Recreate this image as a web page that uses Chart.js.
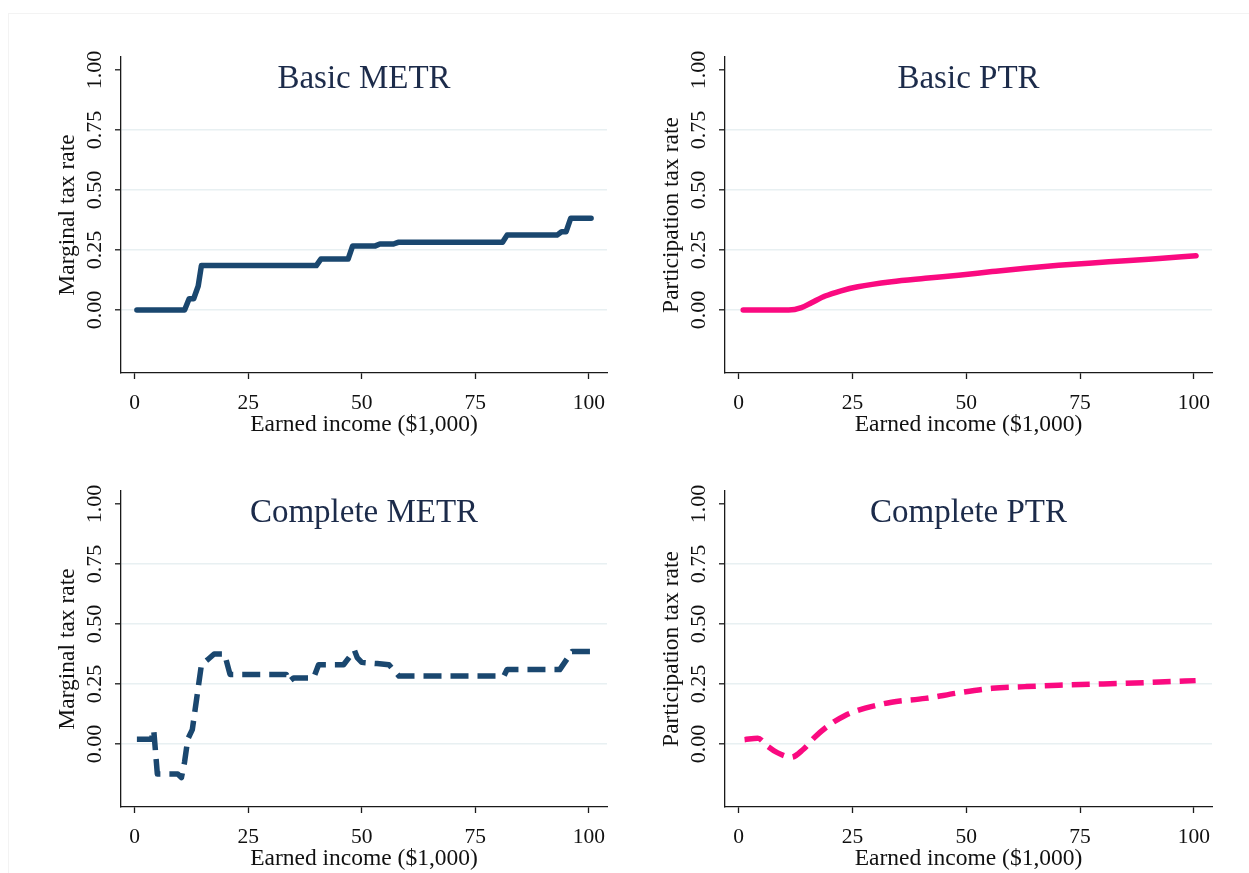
<!DOCTYPE html>
<html>
<head>
<meta charset="utf-8">
<title>METR and PTR</title>
<script src="https://cdn.jsdelivr.net/npm/chart.js@4.4.1/dist/chart.umd.min.js"></script>
<style>
  html, body { margin: 0; padding: 0; background: #fff; overflow: hidden; }
  body { width: 1249px; height: 873px; position: relative; }
  .frame { position: absolute; left: 8px; top: 13px; width: 1250px; height: 880px; border: 1px solid #f3f3f3; }
  canvas { position: absolute; }
</style>
</head>
<body>
<div class="frame"></div>
<canvas id="basic-metr" width="590" height="420" style="left:30px;top:40px"></canvas>
<canvas id="basic-ptr" width="590" height="420" style="left:634px;top:40px"></canvas>
<canvas id="complete-metr" width="590" height="420" style="left:30px;top:474px"></canvas>
<canvas id="complete-ptr" width="590" height="420" style="left:634px;top:474px"></canvas>
<script>
'use strict';

// ─── Data (earned income in $1,000, rates as fractions) ──────────────────────

const X_TICKS = [0, 25, 50, 75, 100];
const Y_TICKS = [0, 0.25, 0.5, 0.75, 1];

const basicMetrIncome = [0.5, 11, 12, 13, 14, 14.7, 40, 41, 47, 48, 53, 54, 57, 58, 81, 82, 93, 94, 95, 96, 100.5];
const basicMetrRate   = [0, 0, 0.047, 0.047, 0.1, 0.185, 0.185, 0.212, 0.212, 0.267, 0.267, 0.275, 0.275, 0.282, 0.282, 0.312, 0.312, 0.326, 0.326, 0.382, 0.382];

const basicPtrIncome = [1, 11, 13.8, 16, 19, 22.5, 26.2, 33.6, 41, 48.3, 55.7, 63, 70.3, 77.7, 85, 92.4, 100.5];
const basicPtrRate   = [0, 0, 0.01, 0.03, 0.058, 0.08, 0.097, 0.118, 0.132, 0.145, 0.16, 0.174, 0.186, 0.196, 0.205, 0.215, 0.226];

const completeMetrIncome = [0.5, 3.7, 4.2, 5, 7, 9.5, 10.3, 11, 11.7, 12.7, 14.7, 16, 17.5, 19.8, 21, 33.4, 34, 35, 39.4, 40.5, 46, 48.4, 49, 50, 53.4, 56, 58.2, 81.3, 82, 93.6, 96.3, 100.5];
const completeMetrRate   = [0.02, 0.02, 0.06, -0.125, -0.125, -0.125, -0.14, -0.075, 0.02, 0.06, 0.33, 0.35, 0.375, 0.375, 0.29, 0.29, 0.26, 0.275, 0.275, 0.33, 0.33, 0.39, 0.36, 0.34, 0.335, 0.33, 0.283, 0.283, 0.31, 0.31, 0.385, 0.385];

const completePtrIncome = [1.3, 4.2, 6.4, 8.6, 11.6, 14.1, 16.7, 19.7, 23.3, 27.8, 33.6, 41, 48.3, 55.7, 63, 70.3, 77.7, 85, 92.4, 100.4];
const completePtrRate   = [0.018, 0.024, -0.01, -0.037, -0.055, -0.024, 0.028, 0.076, 0.118, 0.149, 0.174, 0.19, 0.213, 0.232, 0.239, 0.245, 0.249, 0.253, 0.258, 0.264];

// ─── Styling ──────────────────────────────────────────────────────────────────

const NAVY = '#1a476f';
const PINK = '#fa0a80';
const TITLE_COLOR = '#1c2b4a';
const GRID_COLOR = '#e8f0f2';
const AXIS_COLOR = '#1a1a1a';
const SERIF = "'Liberation Serif', 'Times New Roman', serif";

// panel title drawn inside the plot area
const panelTitle = {
  id: 'panelTitle',
  afterDraw(chart, args, opts) {
    const { ctx, chartArea } = chart;
    ctx.save();
    ctx.font = `33px ${SERIF}`;
    ctx.fillStyle = TITLE_COLOR;
    ctx.textAlign = 'center';
    ctx.textBaseline = 'alphabetic';
    ctx.fillText(opts.text, (chartArea.left + chartArea.right) / 2, chartArea.top + 31);
    ctx.restore();
  },
};

function makePanel(id, title, yTitle, xs, ys, color, dashed, smooth, padRight) {
  const points = xs.map((x, i) => ({ x, y: ys[i] }));

  return new Chart(document.getElementById(id), {
    type: 'line',
    data: {
      datasets: [{
        data: points,
        borderColor: color,
        borderWidth: 5.5,
        borderDash: dashed ? [18, 9] : [],
        borderCapStyle: dashed ? 'butt' : 'round',
        borderJoinStyle: 'round',
        pointRadius: 0,
        tension: 0,
        cubicInterpolationMode: smooth ? 'monotone' : 'default',
        fill: false,
      }],
    },
    plugins: [panelTitle],
    options: {
      responsive: false,
      animation: false,
      devicePixelRatio: 1,
      layout: { padding: { top: 17, right: padRight, left: 0, bottom: 0 } },
      plugins: {
        legend: { display: false },
        tooltip: { enabled: false },
        panelTitle: { text: title },
      },
      scales: {
        x: {
          type: 'linear',
          min: -3,
          max: 104,
          afterBuildTicks: (s) => { s.ticks = X_TICKS.map((v) => ({ value: v })); },
          afterFit: (s) => { s.height = 87; },
          grid: { drawOnChartArea: false, drawTicks: true, tickLength: 6, tickColor: AXIS_COLOR, tickWidth: 1.3 },
          border: { display: true, color: AXIS_COLOR, width: 1.3 },
          ticks: {
            autoSkip: false,
            maxRotation: 0,
            padding: 13.5,
            color: '#111',
            font: { family: SERIF, size: 21.5, lineHeight: 1 },
            callback: (v) => String(v),
          },
          title: {
            display: true,
            text: 'Earned income ($1,000)',
            color: '#111',
            font: { family: SERIF, size: 23.5, lineHeight: 1 },
            padding: { top: 0, bottom: 23.5 },
          },
        },
        y: {
          type: 'linear',
          min: -0.2625,
          max: 1.054,
          afterBuildTicks: (s) => { s.ticks = Y_TICKS.map((v) => ({ value: v })); },
          afterFit: (s) => { s.width = 91; },
          grid: {
            drawOnChartArea: true,
            drawTicks: true,
            tickLength: 6,
            lineWidth: 1.6,
            tickWidth: 1.3,
            tickColor: AXIS_COLOR,
            color: (c) => (c.tick && c.tick.value === 1 ? 'rgba(0,0,0,0)' : GRID_COLOR),
          },
          border: { display: true, color: AXIS_COLOR, width: 1.3 },
          ticks: {
            autoSkip: false,
            minRotation: 90,
            maxRotation: 90,
            crossAlign: 'center',
            padding: 1,
            color: '#111',
            font: { family: SERIF, size: 22, lineHeight: 1 },
            callback: (v) => Number(v).toFixed(2),
          },
          title: {
            display: true,
            text: yTitle,
            color: '#111',
            font: { family: SERIF, size: 23.5, lineHeight: 1 },
            padding: { top: 26, bottom: 0 },
          },
        },
      },
    },
  });
}

makePanel('basic-metr', 'Basic METR', 'Marginal tax rate', basicMetrIncome, basicMetrRate, NAVY, false, false, 13);
makePanel('basic-ptr', 'Basic PTR', 'Participation tax rate', basicPtrIncome, basicPtrRate, PINK, false, true, 12);
makePanel('complete-metr', 'Complete METR', 'Marginal tax rate', completeMetrIncome, completeMetrRate, NAVY, true, false, 13);
makePanel('complete-ptr', 'Complete PTR', 'Participation tax rate', completePtrIncome, completePtrRate, PINK, true, true, 12);
</script>
</body>
</html>
